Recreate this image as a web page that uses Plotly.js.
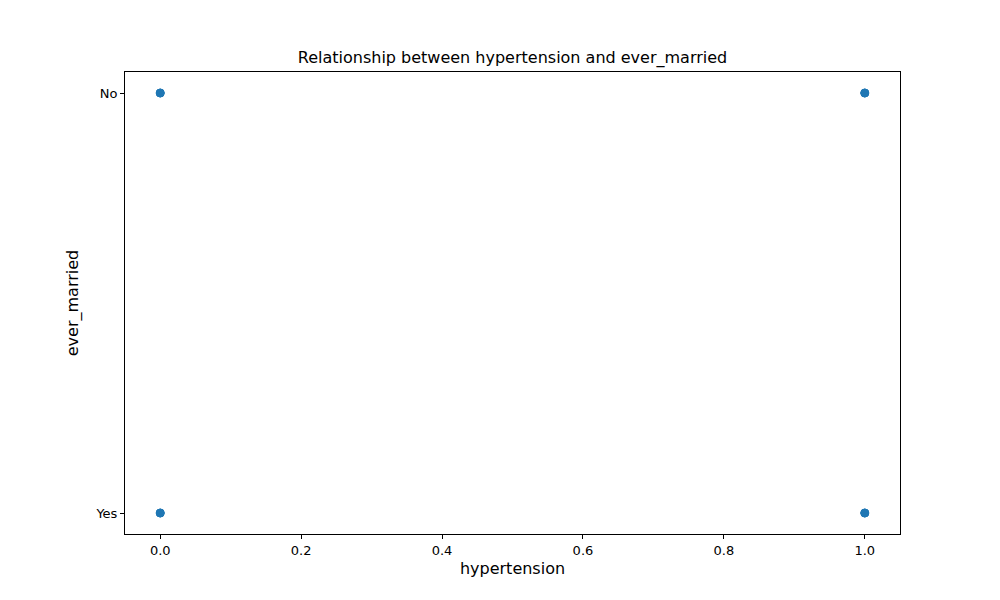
<!DOCTYPE html>
<html><head><script src="https://cdn.plot.ly/plotly-3.0.1.min.js"></script></head>
<body style="margin:0"><div id="c" style="width:1000px;height:600px"></div>
<script>
const hypertension = [0, 0, 1, 1, 0, 1, 0, 1];
const everMarried = ["Yes", "No", "Yes", "No", "Yes", "No", "No", "Yes"];
const yCategories = ["Yes", "No"];
const xTicks = [0, 0.2, 0.4, 0.6, 0.8, 1.0];
Plotly.newPlot('c', [{
  x: hypertension, y: everMarried, type: 'scatter', mode: 'markers',
  marker: {color: '#1f77b4', size: 8, line: {color: '#1f77b4', width: 1}}
}], {
  width: 1000, height: 600,
  margin: {l: 125, r: 100, t: 72, b: 66},
  paper_bgcolor: 'white', plot_bgcolor: 'white',
  font: {family: 'DejaVu Sans', size: 13, color: '#000'},
  title: {text: 'Relationship between hypertension and ever_married', font: {size: 16}, x: 0.5125, xanchor: 'center', y: 0.905, yanchor: 'middle'},
  xaxis: {range: [-0.05, 1.05], tickvals: xTicks, ticktext: xTicks.map(v => v.toFixed(1)),
    showgrid: false, zeroline: false, showline: true, mirror: true, linecolor: '#000', linewidth: 1,
    ticks: 'outside', ticklen: 4, tickcolor: '#000',
    title: {text: 'hypertension', standoff: 6}},
  yaxis: {type: 'category', categoryorder: 'array', categoryarray: yCategories, range: [-0.05, 1.05],
    showgrid: false, zeroline: false, showline: true, mirror: true, linecolor: '#000', linewidth: 1,
    ticks: 'outside', ticklen: 4, tickcolor: '#000',
    title: {text: 'ever_married', standoff: 12}},
  showlegend: false
}, {displayModeBar: false});
</script></body></html>
